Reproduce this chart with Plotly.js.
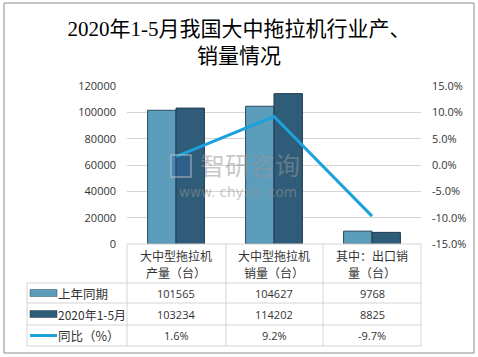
<!DOCTYPE html>
<html>
<head>
<meta charset="utf-8">
<script src="https://cdn.plot.ly/plotly-3.0.1.min.js"></script>
<style>html,body{margin:0;padding:0;background:#fff;}#chart{width:478px;height:357px;}</style>
</head>
<body>
<div id="chart"></div>
<script>
const categories = ['大中型拖拉机产量（台）', '大中型拖拉机销量（台）', '其中：出口销量（台）'];
const headerLines = [['大中型拖拉机', '产量（台）'], ['大中型拖拉机', '销量（台）'], ['其中：出口销', '量（台）']];
const lastYear = [101565, 104627, 9768];
const thisYear = [103234, 114202, 8825];
const yoy = [1.6, 9.2, -9.7];
const seriesNames = ['上年同期', '2020年1-5月', '同比（%）'];
const leftTicks = [0, 20000, 40000, 60000, 80000, 100000, 120000];
const rightTicks = [-15, -10, -5, 0, 5, 10, 15];

const colLight = '#5c9dbc';
const colDark = '#2f5c78';
const colLine = '#1ba1db';
const cjk = '"Noto Sans CJK SC", "Open Sans", sans-serif';
const numFont = '"Open Sans", "Liberation Sans", sans-serif';

// layout geometry (pixels)
const W = 478, H = 357, L = 127, R = 57, T = 86, B = 113;
const pw = W - L - R, ph = H - T - B;
const px = x => (x - L) / pw;
const py = y => (H - B - y) / ph;

const traces = [
  {type: 'bar', name: seriesNames[0], x: categories, y: lastYear,
   marker: {color: colLight, line: {color: '#2a4b60', width: 1}}},
  {type: 'bar', name: seriesNames[1], x: categories, y: thisYear,
   marker: {color: colDark, line: {color: '#1f3b4e', width: 1}}},
  {type: 'scatter', mode: 'lines', name: seriesNames[2], x: categories, y: yoy, yaxis: 'y2',
   line: {color: colLine, width: 3}}
];

const shapes = [];
const annotations = [];
const gridCol = '#d4d4d4';
// table borders
const vx = [27, 127, 226, 323, 421];
vx.forEach((x, i) => {
  shapes.push({type: 'line', xref: 'paper', yref: 'paper', x0: px(x), x1: px(x),
    y0: py(i === 0 ? 283 : 244), y1: py(346), line: {color: gridCol, width: 1}});
});
shapes.push({type: 'line', xref: 'paper', yref: 'paper', x0: px(127), x1: px(421), y0: py(244), y1: py(244), line: {color: gridCol, width: 1}});
[283, 303, 325, 346].forEach(y => {
  shapes.push({type: 'line', xref: 'paper', yref: 'paper', x0: px(27), x1: px(421), y0: py(y), y1: py(y), line: {color: gridCol, width: 1}});
});
// outer border
shapes.push({type: 'rect', xref: 'paper', yref: 'paper', x0: px(4), x1: px(474), y0: py(3), y1: py(353), line: {color: '#8c8c8c', width: 1}});

// header labels (two lines each)
categories.forEach((c, i) => {
  headerLines[i].forEach((t, k) => {
    annotations.push({xref: 'x', yref: 'paper', x: c, y: py(k === 0 ? 255 : 272.5), text: t, showarrow: false,
      font: {family: cjk, size: 12, color: '#333'}, xanchor: 'center', yanchor: 'middle'});
  });
});
// rows
const rowY = [293, 314, 335.5];
const rowData = [lastYear, thisYear, yoy];
rowData.forEach((arr, r) => {
  arr.forEach((v, i) => {
    annotations.push({xref: 'x', yref: 'paper', x: categories[i], y: py(rowY[r]),
      text: r === 2 ? v.toFixed(1) + '%' : String(v), showarrow: false,
      font: {family: numFont, size: 11, color: '#333'}, xanchor: 'center', yanchor: 'middle'});
  });
  annotations.push({xref: 'paper', yref: 'paper', x: px(56), y: py(rowY[r]), text: seriesNames[r],
    showarrow: false, xanchor: 'left', yanchor: 'middle',
    font: {family: cjk, size: r === 1 ? 12 : 12.5, color: '#333'}});
});
// legend swatches
shapes.push({type: 'rect', xref: 'paper', yref: 'paper', x0: px(30), x1: px(57), y0: py(289.5), y1: py(296.5), fillcolor: colLight, line: {color: '#2a4b60', width: 0.5}});
shapes.push({type: 'rect', xref: 'paper', yref: 'paper', x0: px(30), x1: px(57), y0: py(310.5), y1: py(317.5), fillcolor: colDark, line: {color: '#1f3b4e', width: 0.5}});
shapes.push({type: 'line', xref: 'paper', yref: 'paper', x0: px(30), x1: px(57), y0: py(335.5), y1: py(335.5), line: {color: colLine, width: 3}});

// watermark
shapes.push({type: 'rect', xref: 'paper', yref: 'paper', x0: px(171), x1: px(191), y0: py(155), y1: py(177),
  fillcolor: 'rgba(40,100,170,0.35)', line: {color: 'rgba(200,200,200,0.6)', width: 1.5}});
annotations.push({xref: 'paper', yref: 'paper', x: px(250), y: py(164), text: '智研咨询', showarrow: false,
  font: {family: cjk, size: 25, color: 'rgba(150,150,150,0.55)'}, xanchor: 'center', yanchor: 'middle'});
annotations.push({xref: 'paper', yref: 'paper', x: px(238), y: py(192), text: 'www. chyxx. com', showarrow: false,
  font: {family: '"DejaVu Sans", sans-serif', size: 13.5, color: 'rgba(150,150,150,0.55)'}, xanchor: 'center', yanchor: 'middle'});

const layout = {
  width: W, height: H,
  margin: {l: L, r: R, t: T, b: B},
  paper_bgcolor: '#fff', plot_bgcolor: '#fff',
  showlegend: false,
  barmode: 'group', bargap: 0.42, bargroupgap: 0,
  title: {text: '2020年1-5月我国大中拖拉机行业产、<br>销量情况', x: 0.5, xref: 'container', xanchor: 'center',
    y: 0.9, yref: 'container', yanchor: 'top',
    font: {family: '"Liberation Serif", "Noto Sans CJK SC", serif', size: 21, color: '#000'}},
  xaxis: {type: 'category', categoryorder: 'array', categoryarray: categories, showticklabels: false,
    showgrid: false, zeroline: false, showline: false, ticks: ''},
  yaxis: {range: [0, 120000], tickvals: leftTicks, ticktext: leftTicks.map(String), showgrid: true, gridcolor: gridCol,
    zeroline: false, showline: false, ticks: '', ticklen: 0, tickfont: {family: numFont, size: 11, color: '#333'},
    automargin: false, ticklabelstandoff: 10},
  yaxis2: {overlaying: 'y', side: 'right', range: [-15, 15], tickvals: rightTicks,
    ticktext: rightTicks.map(v => v.toFixed(1) + '%'), showgrid: false, zeroline: false, showline: false,
    ticks: '', tickfont: {family: numFont, size: 11, color: '#333'}, automargin: false, ticklabelstandoff: 10},
  shapes: shapes,
  annotations: annotations
};

Plotly.newPlot('chart', traces, layout, {displayModeBar: false, staticPlot: true});
</script>
</body>
</html>
